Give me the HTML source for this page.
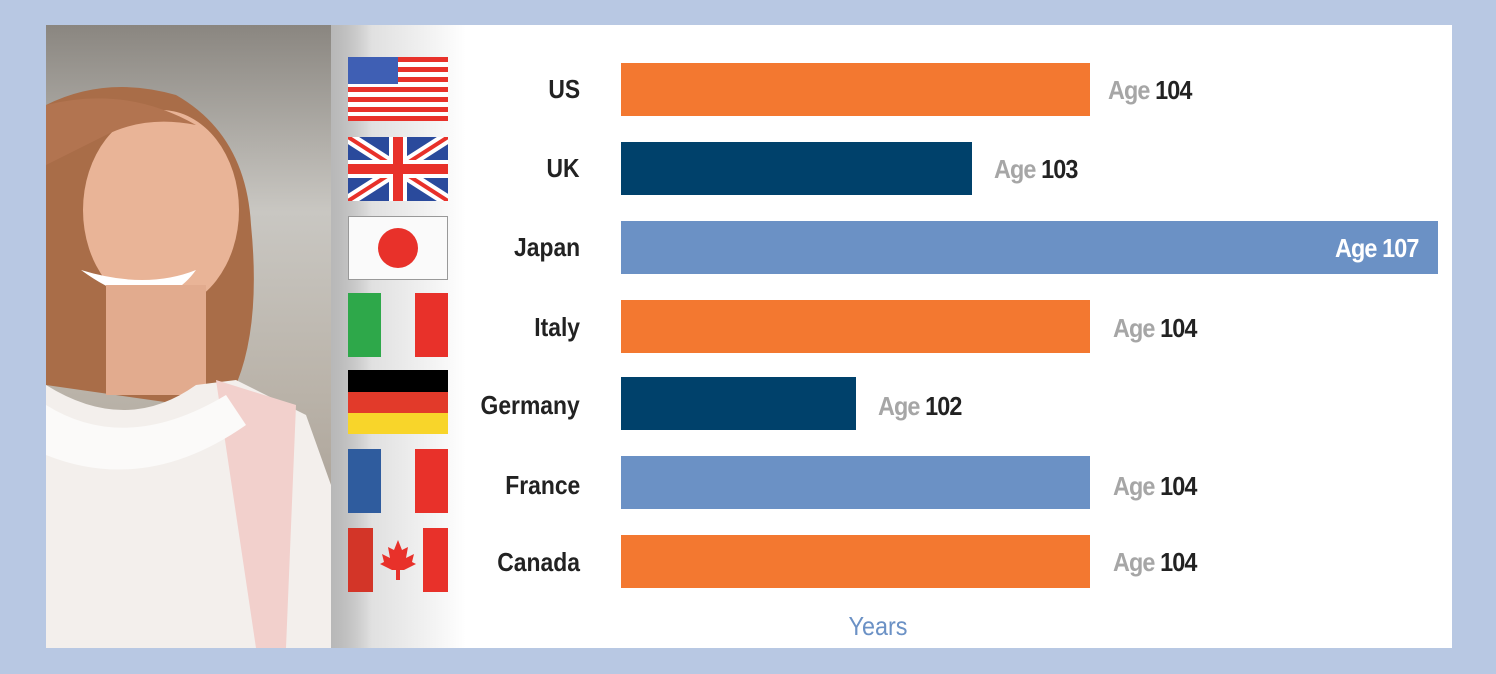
<!DOCTYPE html>
<html><head><meta charset="utf-8"><style>
body{margin:0;width:1496px;height:674px;background:#b8c8e3;position:relative;overflow:hidden;font-family:"Liberation Sans Narrow","Liberation Sans",sans-serif;}
#panel{position:absolute;left:46px;top:25px;width:1406px;height:623px;background:#fff;overflow:hidden}
.lbl{position:absolute;right:872px;font-size:26px;font-weight:bold;color:#222;text-align:right;line-height:30px;transform:scaleX(0.88);transform-origin:right center;white-space:nowrap}
.bar{position:absolute;left:575px;height:53px}
.val{position:absolute;font-size:26px;font-weight:bold;line-height:30px;letter-spacing:-1px;transform:scaleX(0.9);transform-origin:left center;white-space:nowrap}
.val span{color:#a6a6a6}
.val b{color:#222}
.o{background:#f37830}.n{background:#00416b}.l{background:#6b91c5}
.flag{position:absolute;left:302px;width:100px;height:64px}
</style></head><body>
<div id="panel">
<svg width="420" height="623" style="position:absolute;left:0;top:0">
<defs>
<linearGradient id="bg" x1="0" y1="0" x2="0" y2="1"><stop offset="0" stop-color="#8a8680"/><stop offset="0.3" stop-color="#c9c7c2"/><stop offset="0.6" stop-color="#b9b2a8"/><stop offset="1" stop-color="#9c9186"/></linearGradient>
<linearGradient id="fade" x1="0" y1="0" x2="1" y2="0"><stop offset="0" stop-color="#888" stop-opacity="0.6"/><stop offset="0.3" stop-color="#ddd" stop-opacity="0.9"/><stop offset="1" stop-color="#fff"/></linearGradient>
</defs>
<rect x="0" y="0" width="285" height="623" fill="url(#bg)"/>
<path d="M0 80 Q60 50 130 70 Q200 110 205 200 Q215 300 190 360 L140 380 L0 360Z" fill="#a96d48"/>
<ellipse cx="115" cy="185" rx="78" ry="100" fill="#e9b497"/>
<path d="M0 80 Q80 60 150 100 Q100 90 60 110 Q20 130 0 140Z" fill="#b27450"/>
<path d="M35 245 Q110 300 150 245 Q100 265 35 245Z" fill="#fff"/>
<rect x="60" y="260" width="100" height="110" fill="#e2ab8e"/>
<path d="M0 360 Q80 410 150 360 L190 355 L260 390 L285 460 L285 623 L0 623Z" fill="#f3efec"/>
<path d="M170 355 L250 380 L240 623 L210 623Z" fill="#f2d0cc"/>
<path d="M0 380 Q80 430 180 370 L200 400 Q100 470 0 430Z" fill="#fbfaf9"/>
<rect x="285" y="0" width="135" height="623" fill="url(#fade)"/>
</svg>
<svg class="flag" style="top:32px" viewBox="0 0 100 64"><rect width="100" height="64" fill="#fff"/><g fill="#e8312a"><rect y="0" width="100" height="5"/><rect y="10" width="100" height="5"/><rect y="20" width="100" height="5"/><rect y="30" width="100" height="5"/><rect y="40" width="100" height="5"/><rect y="50" width="100" height="5"/><rect y="59" width="100" height="5"/></g><rect width="50" height="27" fill="#3f5fb4"/></svg>
<svg class="flag" style="top:112px" viewBox="0 0 100 64"><rect width="100" height="64" fill="#2a4a9c"/><path d="M0 0L100 64M100 0L0 64" stroke="#fff" stroke-width="12"/><path d="M0 0L100 64M100 0L0 64" stroke="#e8312a" stroke-width="4"/><path d="M50 0V64M0 32H100" stroke="#fff" stroke-width="18"/><path d="M50 0V64M0 32H100" stroke="#e8312a" stroke-width="10"/></svg>
<svg class="flag" style="top:191px" viewBox="0 0 100 64"><rect x="0.5" y="0.5" width="99" height="63" fill="#fafafa" stroke="#999"/><circle cx="50" cy="32" r="20" fill="#e8312a"/></svg>
<svg class="flag" style="top:268px" viewBox="0 0 100 64"><rect width="33" height="64" fill="#2ea84a"/><rect x="67" width="33" height="64" fill="#e8312a"/></svg>
<svg class="flag" style="top:345px" viewBox="0 0 100 64"><rect width="100" height="22" fill="#000"/><rect y="22" width="100" height="21" fill="#e23a2a"/><rect y="43" width="100" height="21" fill="#f8d52a"/></svg>
<svg class="flag" style="top:424px" viewBox="0 0 100 64"><rect width="33" height="64" fill="#2f5c9e"/><rect x="67" width="33" height="64" fill="#e8312a"/></svg>
<svg class="flag" style="top:503px" viewBox="0 0 100 64"><rect width="25" height="64" fill="#d33528"/><rect x="75" width="25" height="64" fill="#e8312a"/><path d="M50 12 L54 22 L60 19 L58 30 L66 26 L64 34 L68 36 L56 42 L52 42 L52 52 L48 52 L48 42 L44 42 L32 36 L36 34 L34 26 L42 30 L40 19 L46 22Z" fill="#e8312a"/></svg>

<div class="lbl" style="top:49px">US</div>
<div class="lbl" style="top:128px">UK</div>
<div class="lbl" style="top:207px">Japan</div>
<div class="lbl" style="top:287px">Italy</div>
<div class="lbl" style="top:365px">Germany</div>
<div class="lbl" style="top:445px">France</div>
<div class="lbl" style="top:522px">Canada</div>

<div class="bar o" style="top:38px;width:469px"></div>
<div class="bar n" style="top:117px;width:351px"></div>
<div class="bar l" style="top:196px;width:817px"></div>
<div class="bar o" style="top:275px;width:469px"></div>
<div class="bar n" style="top:352px;width:235px"></div>
<div class="bar l" style="top:431px;width:469px"></div>
<div class="bar o" style="top:510px;width:469px"></div>

<div class="val" style="left:1062px;top:50px"><span>Age</span> <b>104</b></div>
<div class="val" style="left:948px;top:129px"><span>Age</span> <b>103</b></div>
<div class="val" style="left:1289px;top:208px;color:#fff">Age 107</div>
<div class="val" style="left:1067px;top:288px"><span>Age</span> <b>104</b></div>
<div class="val" style="left:832px;top:366px"><span>Age</span> <b>102</b></div>
<div class="val" style="left:1067px;top:446px"><span>Age</span> <b>104</b></div>
<div class="val" style="left:1067px;top:522px"><span>Age</span> <b>104</b></div>

<div style="position:absolute;left:782px;top:586px;width:100px;text-align:center;font-size:26px;color:#6b91c5;transform:scaleX(0.9)">Years</div>
</div>
</body></html>
